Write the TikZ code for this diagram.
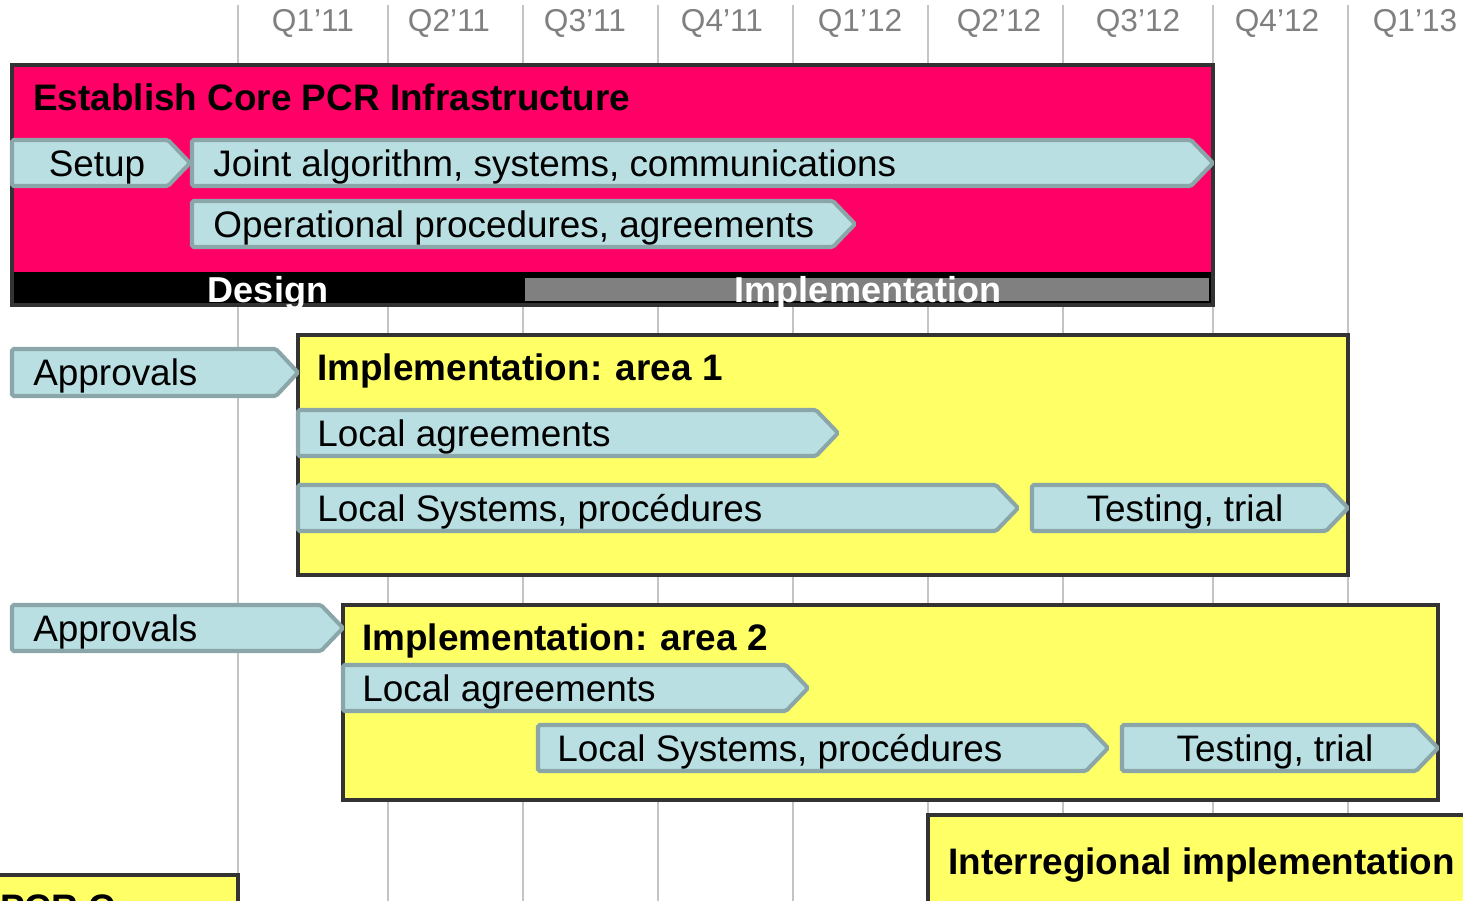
\documentclass[tikz,border=0pt]{standalone}
\usepackage{fontspec}
\setmainfont{Liberation Sans}
\definecolor{cPink}{HTML}{FF0066}
\definecolor{cYellow}{HTML}{FFFF66}
\definecolor{cChevFill}{HTML}{B9DFE2}
\definecolor{cChevLine}{HTML}{8AA6A9}
\definecolor{cFrame}{HTML}{333333}
\definecolor{cGrid}{HTML}{C4C4C4}
\definecolor{cQuarter}{HTML}{808080}
\tikzset{
  gridline/.style={cGrid, line width=1.1pt},
  qlabel/.style={text=cQuarter, font=\fontsize{18}{21}\selectfont, inner sep=0pt, anchor=base},
  pinkbox/.style={fill=cPink, draw=cFrame, line width=2.4pt},
  yellowbox/.style={fill=cYellow, draw=cFrame, line width=2.4pt},
  chevbar/.style={fill=cChevFill, draw=cChevLine, line width=2.3pt, rounded corners=1pt},
  bartext/.style={font=\fontsize{21}{25}\selectfont, inner sep=0pt, anchor=base west},
  headtext/.style={font=\fontsize{21}{25}\selectfont\bfseries, inner sep=0pt, anchor=base west},
  phasetext/.style={font=\fontsize{20.5}{24}\selectfont\bfseries, text=white, inner sep=0pt, anchor=base}
}
\begin{document}
\begin{tikzpicture}[x=0.02cm, y=-0.02cm]
\useasboundingbox (0,0) rectangle (1463,900);

% quarter grid
\foreach \gx in {238,388,523,658,793,928,1063,1213,1348}
{
    \draw [gridline] (\gx,5) -- (\gx,905);
};
\foreach \qx/\qname/\qtext in {313/q1a/Q1’11, 449/q2a/Q2’11, 585/q3a/Q3’11, 722/q4a/Q4’11, 860/q1b/Q1’12, 999/q2b/Q2’12, 1138/q3b/Q3’12, 1277/q4b/Q4’12, 1415/q1c/Q1’13}
{
    \node [qlabel] (t\qname) at (\qx,31) {\qtext};
};

% core infrastructure block
\coordinate (cCoreTL) at (12,65);
\coordinate (cCoreBR) at (1213,305);
\draw [pinkbox] (cCoreTL) rectangle (cCoreBR);
\fill [black] (12,272) rectangle (cCoreBR);
\fill [cQuarter] (525,278) rectangle (1209,301);
\draw [cFrame, line width=2.4pt] (cCoreTL) rectangle (cCoreBR);
\node [headtext] (tCore) at (33,110) {Establish Core PCR Infrastructure};
\node [phasetext] (tDesign) at (268,302) {Design};
\node [phasetext] (tImpl) at (868,302) {Implementation};

% area boxes
\draw [yellowbox] (298,335) rectangle (1348,575);
\draw [yellowbox] (343,605) rectangle (1438,800);
\draw [yellowbox] (928,815) rectangle (1480,960);
\draw [yellowbox] (-20,875) rectangle (238,960);

% chevron bars
\foreach \xa/\xb/\ya/\yb in {12/190/140/186, 192/1213/140/186, 192/855/201/247,
    12/298/349/396, 298/838/410/456, 298/1018/485/531, 1032/1348/485/531,
    12/343/605/651, 343/808/665/711, 538/1108/725/771, 1122/1438/725/771}
{
    \draw [chevbar] (\xa,\ya) -- (\xb-22,\ya) -- (\xb,{(\ya+\yb)/2}) -- (\xb-22,\yb) -- (\xa,\yb) -- cycle;
};

\node [bartext, anchor=base] (tSetup) at (97,176) {Setup};
\node [bartext] (tJoint) at (213,176) {Joint algorithm, systems, communications};
\node [bartext] (tOper) at (213,237) {Operational procedures, agreements};

\node [bartext] (tApprA) at (33,385) {Approvals};
\node [headtext] (tAreaA) at (317,380) {Implementation: area 1};
\node [bartext] (tAgrA) at (317,446) {Local agreements};
\node [bartext] (tSysA) at (317,521) {Local Systems, procédures};
\node [bartext, anchor=base] (tTestA) at (1185,521) {Testing, trial};

\node [bartext] (tApprB) at (33,641) {Approvals};
\node [headtext] (tAreaB) at (362,650) {Implementation: area 2};
\node [bartext] (tAgrB) at (362,701) {Local agreements};
\node [bartext] (tSysB) at (557,761) {Local Systems, procédures};
\node [bartext, anchor=base] (tTestB) at (1275,761) {Testing, trial};

\node [headtext] (tInter) at (948,874) {Interregional implementation};
\node [headtext] (tPcrC) at (0,920) {PCR C};

\end{tikzpicture}
\end{document}
